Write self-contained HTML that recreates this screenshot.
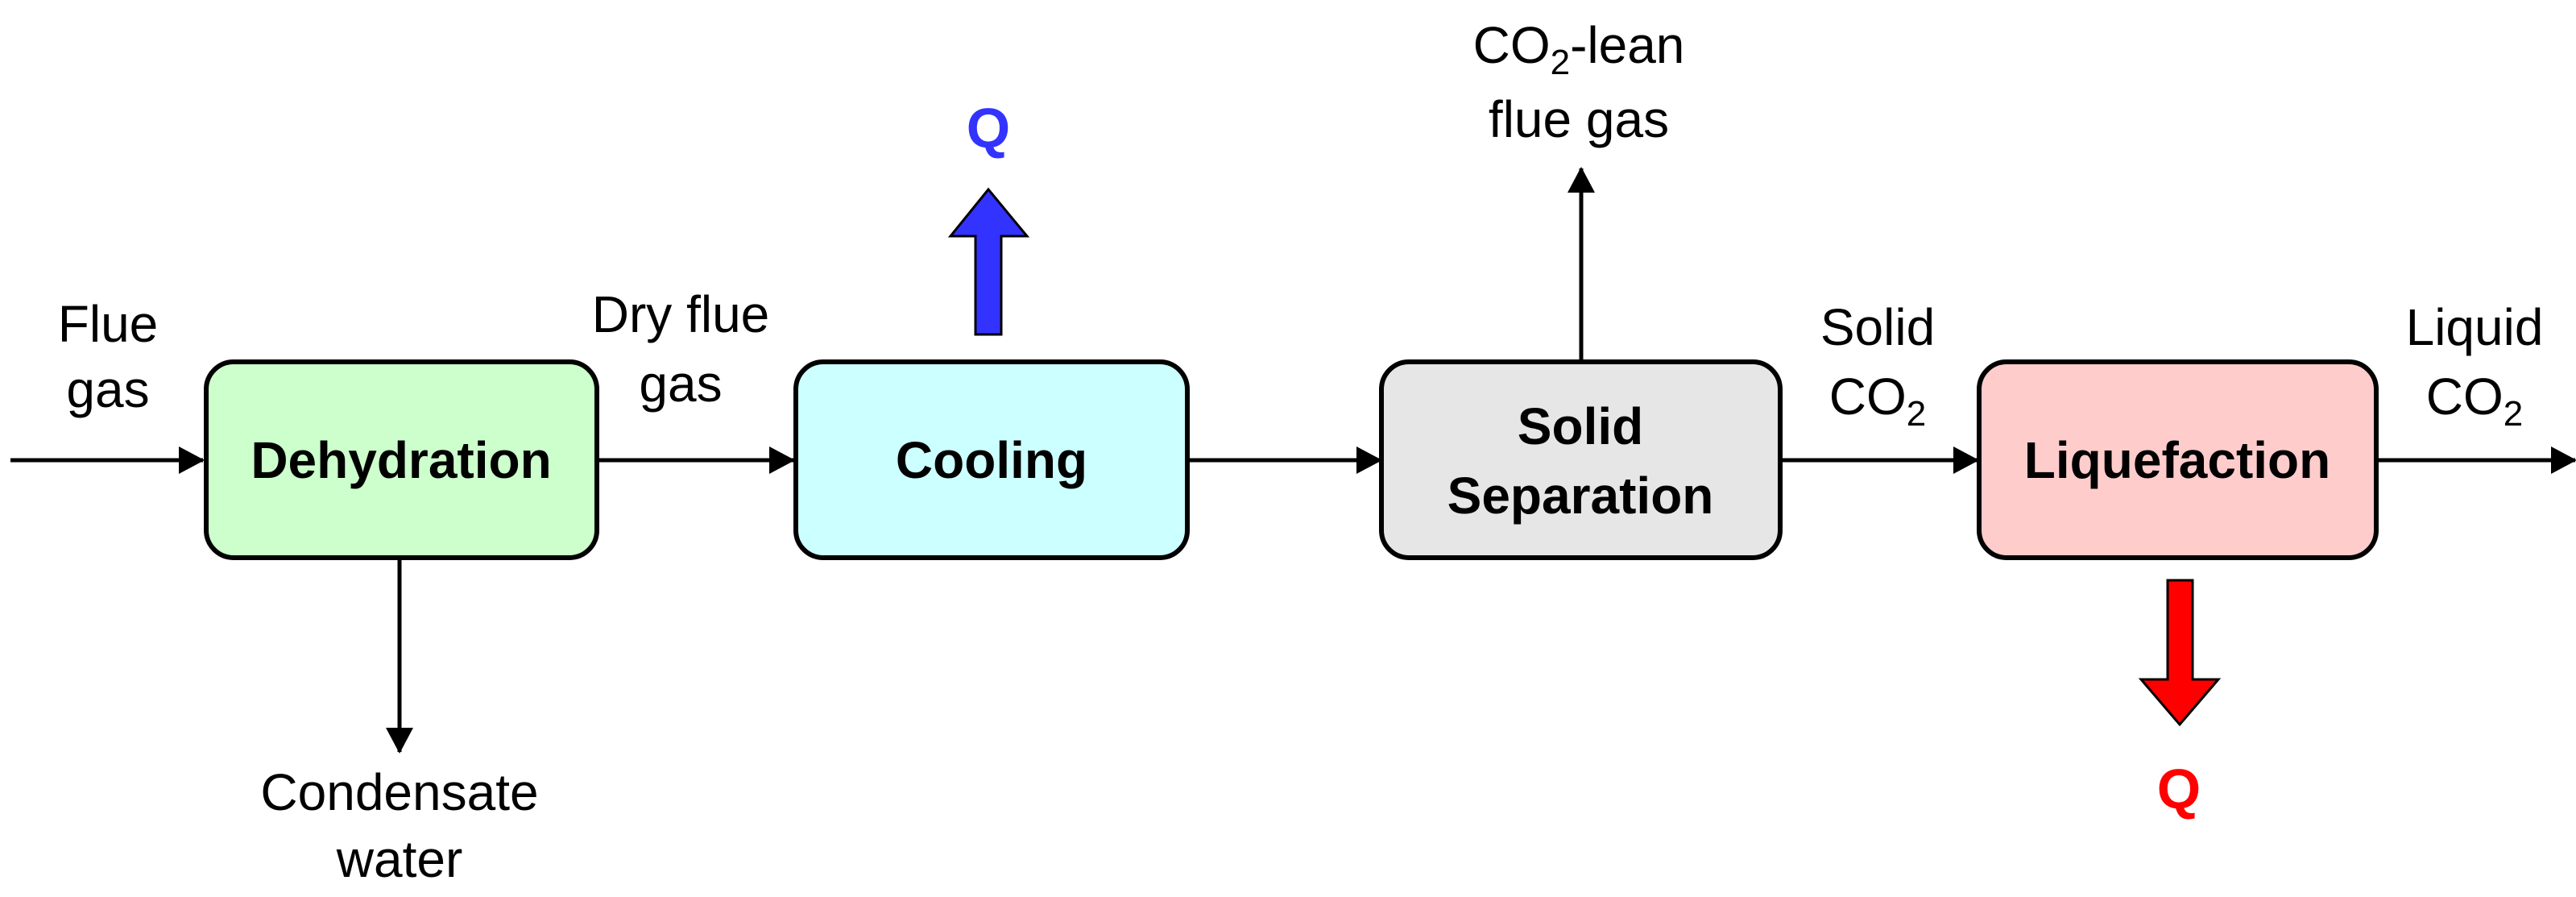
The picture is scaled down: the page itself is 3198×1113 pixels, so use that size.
<!DOCTYPE html>
<html><head><meta charset="utf-8"><style>
html,body{margin:0;padding:0;background:#fff;}
svg{display:block;}
text{font-family:"Liberation Sans",Arial,sans-serif;}
</style></head><body>
<svg width="3198" height="1113" viewBox="0 0 3198 1113" xmlns="http://www.w3.org/2000/svg">
<defs>
<marker id="ah" markerWidth="32" markerHeight="34" refX="30" refY="17" orient="auto" markerUnits="userSpaceOnUse">
<path d="M0,0 L32,17 L0,34 Z" fill="#000"/>
</marker>
</defs>
<g stroke="#000" stroke-width="5" fill="none">
<line x1="13" y1="571" x2="252" y2="571" marker-end="url(#ah)"/>
<line x1="741" y1="571" x2="985" y2="571" marker-end="url(#ah)"/>
<line x1="1474" y1="571" x2="1714" y2="571" marker-end="url(#ah)"/>
<line x1="2210" y1="571" x2="2455" y2="571" marker-end="url(#ah)"/>
<line x1="2950" y1="571" x2="3197" y2="571" marker-end="url(#ah)"/>
<line x1="496" y1="693" x2="496" y2="933" marker-end="url(#ah)"/>
<line x1="1963" y1="448" x2="1963" y2="209" marker-end="url(#ah)"/>
</g>
<g stroke="#000" stroke-width="6">
<rect x="256" y="449" width="485" height="243" rx="34" fill="#ccffcc"/>
<rect x="988" y="449" width="486" height="243" rx="34" fill="#ccffff"/>
<rect x="1715" y="449" width="495" height="243" rx="34" fill="#e6e6e6"/>
<rect x="2457" y="449" width="493" height="243" rx="34" fill="#ffcccc"/>
</g>
<path d="M1211,415 L1211,293 L1180,293 L1227,235 L1275,293 L1243,293 L1243,415 Z" fill="#3333ff" stroke="#000" stroke-width="3"/>
<path d="M2691,720 L2722,720 L2722,843 L2754,843 L2706,899 L2658,843 L2691,843 Z" fill="#ff0000" stroke="#000" stroke-width="3"/>
<g font-weight="bold" font-size="64" text-anchor="middle" fill="#000">
<text x="498" y="593">Dehydration</text>
<text x="1231" y="593">Cooling</text>
<text x="1962" y="551">Solid</text>
<text x="1962" y="637">Separation</text>
<text x="2703" y="593">Liquefaction</text>
</g>
<text x="1227" y="183" font-weight="bold" font-size="70" text-anchor="middle" fill="#3333ff">Q</text>
<text x="2705" y="1003" font-weight="bold" font-size="70" text-anchor="middle" fill="#ff0000">Q</text>
<g font-size="64" text-anchor="middle" fill="#000">
<text x="134" y="424">Flue</text>
<text x="134" y="505">gas</text>
<text x="845" y="412">Dry flue</text>
<text x="845" y="498">gas</text>
<text x="496" y="1005">Condensate</text>
<text x="496" y="1088">water</text>
<text x="1960" y="78">CO<tspan font-size="44" dy="14">2</tspan><tspan dy="-14">-lean</tspan></text>
<text x="1960" y="170">flue gas</text>
<text x="2331" y="428">Solid</text>
<text x="2331" y="514">CO<tspan font-size="44" dy="14">2</tspan></text>
<text x="3072" y="428">Liquid</text>
<text x="3072" y="514">CO<tspan font-size="44" dy="14">2</tspan></text>
</g>
</svg>
</body></html>
